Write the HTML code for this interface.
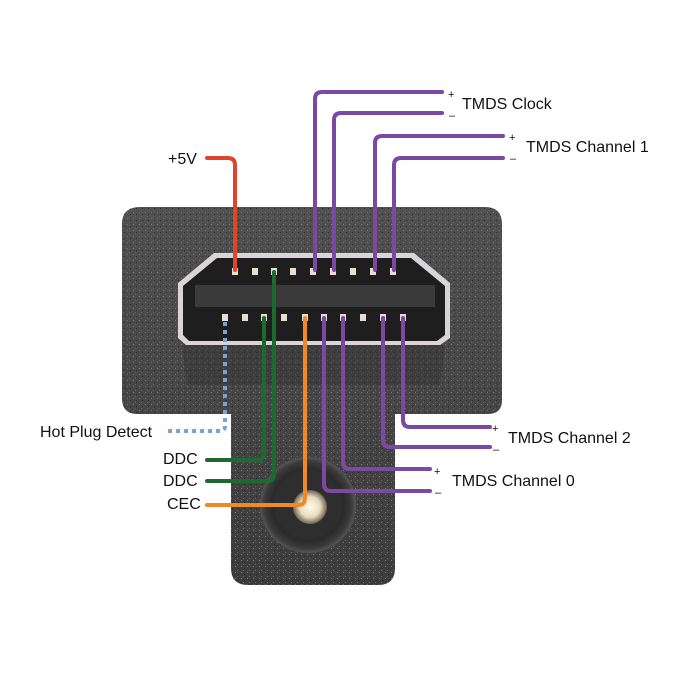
<!DOCTYPE html>
<html><head><meta charset="utf-8"><style>
html,body{margin:0;padding:0;background:#fff;}
svg{display:block}
text{font-family:"Liberation Sans",sans-serif;fill:#111;}
</style></head><body>
<svg width="700" height="700" viewBox="0 0 700 700" xmlns="http://www.w3.org/2000/svg">
<defs>
<radialGradient id="cyl" cx="50%" cy="50%" r="50%">
<stop offset="0" stop-color="#555"/><stop offset="0.75" stop-color="#2a2a2a"/><stop offset="0.9" stop-color="#3a3a3a"/><stop offset="1" stop-color="#555"/>
</radialGradient>
<radialGradient id="pin" cx="50%" cy="50%" r="50%">
<stop offset="0" stop-color="#fffbe8"/><stop offset="0.6" stop-color="#e8dcc0"/><stop offset="1" stop-color="#6a6250"/>
</radialGradient>
<linearGradient id="bodyg" x1="0" y1="0" x2="0" y2="1">
<stop offset="0" stop-color="#505050"/><stop offset="1" stop-color="#3c3c3c"/>
</linearGradient>
<pattern id="spk" width="6" height="6" patternUnits="userSpaceOnUse">
<rect x="1" y="2" width="1" height="1" fill="#777"/><rect x="4" y="4" width="1" height="1" fill="#2a2a2a"/><rect x="3" y="0" width="1" height="1" fill="#666"/>
</pattern>
</defs>
<!-- body -->
<path id="b" d="M140,207 H485 Q502,207 502,224 V400 Q502,414 488,414 H395 V568 Q395,585 378,585 H248 Q231,585 231,568 V414 H137 Q122,414 122,398 V224 Q122,207 140,207 Z" fill="url(#bodyg)"/>
<path d="M140,207 H485 Q502,207 502,224 V400 Q502,414 488,414 H395 V568 Q395,585 378,585 H248 Q231,585 231,568 V414 H137 Q122,414 122,398 V224 Q122,207 140,207 Z" fill="url(#spk)"/>
<path d="M182,345 L445,345 L440,385 L187,385 Z" fill="#2a2a2a" opacity="0.35"/>
<!-- stem cylinder -->
<circle cx="308" cy="505" r="48" fill="url(#cyl)"/>
<circle cx="308" cy="505" r="34" fill="#2e2e2e"/>
<circle cx="310" cy="507" r="17" fill="url(#pin)"/>
<!-- connector opening -->
<path d="M214,253 H414 L450,283 V338 L440,345 H186 L178,338 V283 Z" fill="#d8d4d8"/>
<path d="M217,258 H411 L445,286 V335 L437,341 H189 L183,335 V286 Z" fill="#1e1e1e"/>
<rect x="195" y="285" width="240" height="22" fill="#3a3a3a"/>
<g fill="#e6dfcf">
<rect x="232" y="268" width="6" height="7"/><rect x="252" y="268" width="6" height="7"/><rect x="271" y="268" width="6" height="7"/><rect x="290" y="268" width="6" height="7"/><rect x="310" y="268" width="6" height="7"/><rect x="330" y="268" width="6" height="7"/><rect x="350" y="268" width="6" height="7"/><rect x="370" y="268" width="6" height="7"/><rect x="390" y="268" width="6" height="7"/>
<rect x="222" y="314" width="6" height="7"/><rect x="242" y="314" width="6" height="7"/><rect x="261" y="314" width="6" height="7"/><rect x="281" y="314" width="6" height="7"/><rect x="302" y="314" width="6" height="7"/><rect x="321" y="314" width="6" height="7"/><rect x="340" y="314" width="6" height="7"/><rect x="360" y="314" width="6" height="7"/><rect x="380" y="314" width="6" height="7"/><rect x="400" y="314" width="6" height="7"/>
</g>
<!-- wires -->
<g fill="none" stroke-width="4" stroke-linecap="round">
<path d="M207,158 H228 Q235,158 235,165 V270" stroke="#e0452a"/>
<g stroke="#7b48a2">
<path d="M442,92 H322 Q315,92 315,99 V270"/>
<path d="M442,113 H341 Q334,113 334,120 V270"/>
<path d="M503,136 H382 Q375,136 375,143 V270"/>
<path d="M503,158 H401 Q394,158 394,165 V270"/>
<path d="M403,318 V420 Q403,427 410,427 H490"/>
<path d="M383,318 V440 Q383,447 390,447 H490"/>
<path d="M343,318 V462 Q343,469 350,469 H430"/>
<path d="M324,318 V484 Q324,491 331,491 H430"/>
</g>
<g stroke="#1e6a2e">
<path d="M264,318 V453 Q264,460 257,460 H207"/>
<path d="M274,272 V474 Q274,481 267,481 H207"/>
</g>
<path d="M305,318 V498 Q305,505 298,505 H207" stroke="#ef8a2c"/>
<path d="M225,322 V426 Q225,431 220,431 H165" stroke="#7aa0d8" stroke-dasharray="4,4" stroke-linecap="butt"/>
</g>
<!-- labels -->
<g font-size="16">
<text x="168" y="164">+5V</text>
<text x="462" y="109">TMDS Clock</text>
<text x="526" y="152">TMDS Channel 1</text>
<text x="508" y="443">TMDS Channel 2</text>
<text x="452" y="486">TMDS Channel 0</text>
<text x="40" y="437">Hot Plug Detect</text>
<text x="163" y="464">DDC</text>
<text x="163" y="486">DDC</text>
<text x="167" y="509">CEC</text>
</g>
<g font-size="11">
<text x="448" y="98">+</text><text x="449" y="119">–</text>
<text x="509" y="141">+</text><text x="510" y="162">–</text>
<text x="492" y="432">+</text><text x="493" y="453">–</text>
<text x="434" y="475">+</text><text x="435" y="496">–</text>
</g>
</svg>
</body></html>
